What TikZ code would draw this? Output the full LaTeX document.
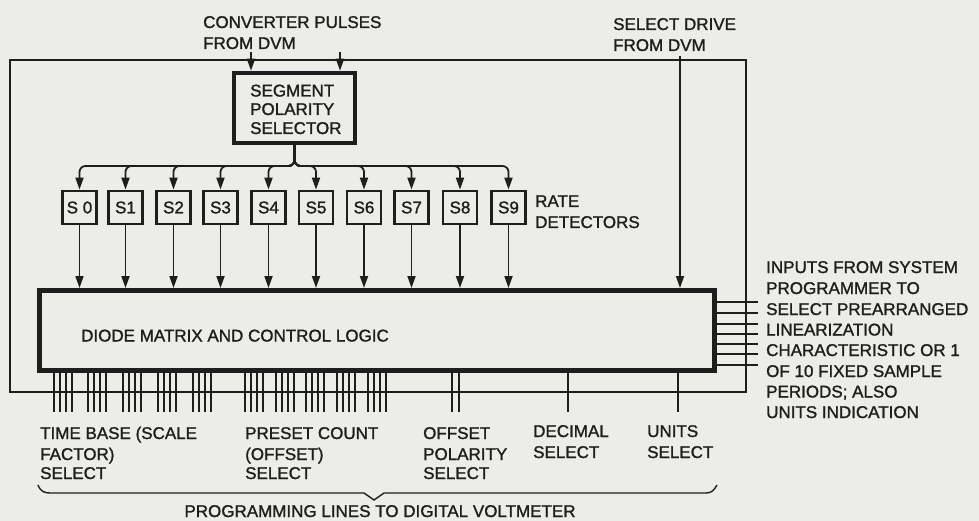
\documentclass[tikz,border=0pt]{standalone}
\usepackage{fontspec}
\setmainfont{Liberation Sans}
\newfontfamily\lettering{Liberation Sans}[FakeBold=1.3]
\usetikzlibrary{arrows.meta}
\definecolor{paper}{RGB}{236,236,233}
\definecolor{ink}{RGB}{30,30,30}
\begin{document}
\begin{tikzpicture}[x=1pt,y=-1pt,
  every node/.style={font=\lettering\fontsize{17}{21}\selectfont, text=ink, inner sep=0pt},
  lbl/.style={anchor=base west},
  frame/.style={draw=ink, line width=1.2pt},
  lead/.style={draw=ink, line width=1.6pt},
  arr/.style={draw=ink, line width=1.8pt, -{Triangle[length=12pt,width=8pt]}},
  sbox/.style={draw=ink, line width=2.8pt, minimum width=34pt, minimum height=33pt},
  selbox/.style={draw=ink, line width=4.5pt, minimum width=121pt, minimum height=70pt},
  dmbox/.style={draw=ink, line width=5pt, minimum width=675pt, minimum height=80pt},
]
\fill[paper] (0,0) rectangle (979,521);
\useasboundingbox (0,0) rectangle (979,521);

% outer frame
\draw[frame] (10,60) rectangle (746,392);

% top labels
\node[lbl] (cpa) at (203,28) {CONVERTER PULSES};
\node[lbl] (cpb) at (203,49) {FROM DVM};
\node[lbl] (sda) at (613,30) {SELECT DRIVE};
\node[lbl] (sdb) at (613,51) {FROM DVM};

% segment polarity selector
\node[selbox] (sel) at (294.5,108) {};
\node[lbl] (sel1) at (250,96.5) {SEGMENT};
\node[lbl] (sel2) at (250,115) {POLARITY};
\node[lbl] (sel3) at (250,134) {SELECTOR};

\coordinate (cp1) at (251,52);
\coordinate (cp2) at (340,52);
\draw[arr] (cp1) -- (cp1 |- sel.north);
\draw[arr] (cp2) -- (cp2 |- sel.north);

% rate detectors
\foreach \i/\x/\t in {0/79.5/S 0,1/125.5/S1,2/173.5/S2,3/220.5/S3,4/268.5/S4,5/316/S5,6/364/S6,7/411.5/S7,8/460/S8,9/508.5/S9}
  \node[sbox] (S\i) at (\x,207.5) {\t};
\node[lbl] (rd1) at (535,207) {RATE};
\node[lbl] (rd2) at (535,228) {DETECTORS};

% distribution tree
\coordinate (bus) at (294.5,166);
\foreach \i in {0,...,9}
  \draw[arr, rounded corners=6pt] (sel.south) -- (bus) -| (S\i.north);

% diode matrix
\node[dmbox] (dm) at (377,330.5) {};
\node[lbl] (dml) at (81,341.5) {DIODE MATRIX AND CONTROL LOGIC};

\foreach \i in {0,...,9}
  \draw[arr] (S\i.south) -- (S\i.south |- dm.north);

\coordinate (sd) at (680,56);
\draw[arr] (sd) -- (sd |- dm.north);

% right-hand inputs
\foreach \y in {302,313,324,334,344,354,365}
  \draw[lead] (dm.east |- 0,\y) -- (758,\y);
\node[lbl] (r1) at (766,273) {INPUTS FROM SYSTEM};
\node[lbl] (r2) at (766,294) {PROGRAMMER TO};
\node[lbl] (r3) at (766,315) {SELECT PREARRANGED};
\node[lbl] (r4) at (766,335.5) {LINEARIZATION};
\node[lbl] (r5) at (766,356) {CHARACTERISTIC OR 1};
\node[lbl] (r6) at (766,377) {OF 10 FIXED SAMPLE};
\node[lbl] (r7) at (766,397.5) {PERIODS; ALSO};
\node[lbl] (r8) at (766,418) {UNITS INDICATION};

% bottom programming lines
\foreach \g in {54,88,123,158,193,245,276,306,337,368}
  \foreach \k in {0,...,3} {
    \pgfmathsetmacro\xx{\g+6*\k}
    \draw[lead] (\xx,412) -- (\xx,412 |- dm.south);
  }
\foreach \xx in {452,459,568,678}
  \draw[lead] (\xx,412) -- (\xx,412 |- dm.south);

\node[lbl] (b1a) at (40,439) {TIME BASE (SCALE};
\node[lbl] (b1b) at (40,460) {FACTOR)};
\node[lbl] (b1c) at (40,479) {SELECT};
\node[lbl] (b2a) at (245,439) {PRESET COUNT};
\node[lbl] (b2b) at (245,460) {(OFFSET)};
\node[lbl] (b2c) at (245,479) {SELECT};
\node[lbl] (b3a) at (423,439) {OFFSET};
\node[lbl] (b3b) at (423,460) {POLARITY};
\node[lbl] (b3c) at (423,479) {SELECT};
\node[lbl] (b4a) at (533,437) {DECIMAL};
\node[lbl] (b4b) at (533,458) {SELECT};
\node[lbl] (b5a) at (647,437) {UNITS};
\node[lbl] (b5b) at (647,458) {SELECT};

% brace
\draw[ink, line width=1.4pt] (38,485) .. controls (41,492) and (44,493) .. (52,493)
  -- (364,493) -- (374,500) -- (384,493) -- (706,493)
  .. controls (712,493) and (714,490) .. (717,485);
\node[anchor=base] (plv) at (380,517) {PROGRAMMING LINES TO DIGITAL VOLTMETER};
\end{tikzpicture}
\end{document}
